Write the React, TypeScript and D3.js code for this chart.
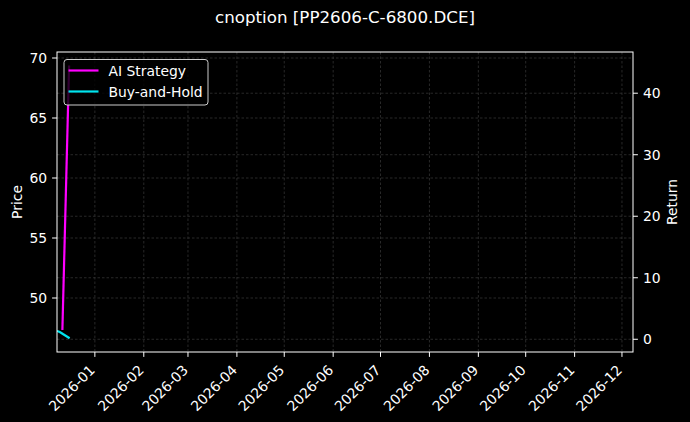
import React, { useEffect, useRef } from 'react';
import * as d3 from 'd3';

// series values (plotted on the Return axis)
const strategyDates = ['2025-12-11 10:00', '2025-12-15 16:00'];
const strategyValues = [1.5, 44.5];

const holdDates = ['2025-12-08 00:00', '2025-12-09 00:00', '2025-12-10 00:00', '2025-12-11 00:00', '2025-12-12 00:00', '2025-12-15 00:00', '2025-12-16 00:00'];
const holdValues = [1.35, 1.27, 1.14, 0.98, 0.81, 0.33, 0.16];

const xTickLabels = ['2026-01', '2026-02', '2026-03', '2026-04', '2026-05', '2026-06', '2026-07', '2026-08', '2026-09', '2026-10', '2026-11', '2026-12'];
const priceTicks = [50, 55, 60, 65, 70];
const returnTicks = [0, 10, 20, 30, 40];

const parse = d3.timeParse('%Y-%m-%d %H:%M');
const FONT = 'DejaVu Sans, sans-serif';

const App: React.FC = () => {
  const svgRef = useRef<SVGSVGElement>(null);
  const width = 690;
  const height = 422;

  useEffect(() => {
    document.body.style.margin = '0';
    document.body.style.background = '#000';
    if (!svgRef.current) return;
    const svg = d3.select(svgRef.current);
    svg.selectAll('*').remove();

    const margin = { top: 52, right: 57, bottom: 70, left: 57 };
    const x0 = margin.left, x1 = width - margin.right;
    const y0 = margin.top, y1 = height - margin.bottom;

    const x = d3.scaleTime()
      .domain([parse('2025-12-08 00:00')!, parse('2026-12-08 00:00')!])
      .range([x0, x1]);
    const yPrice = d3.scaleLinear().domain([45.5, 70.5]).range([y1, y0]);
    const yRet = d3.scaleLinear().domain([-2.07, 46.7]).range([y1, y0]);

    svg.append('rect').attr('width', width).attr('height', height).attr('fill', '#000');

    // title
    svg.append('text')
      .attr('x', width / 2).attr('y', 23)
      .attr('text-anchor', 'middle')
      .style('font-family', FONT).style('font-size', '16.7px')
      .attr('fill', '#fff')
      .text('cnoption [PP2606-C-6800.DCE]');

    const xTicks = xTickLabels.map(s => parse(s + '-01 00:00')!);

    // grid
    const grid = svg.append('g')
      .attr('stroke', '#3a3a3a').attr('stroke-width', 0.7).attr('stroke-dasharray', '2.5,2');
    xTicks.forEach(d => {
      grid.append('line').attr('x1', x(d)).attr('x2', x(d)).attr('y1', y0).attr('y2', y1);
    });
    priceTicks.forEach(v => {
      grid.append('line').attr('x1', x0).attr('x2', x1).attr('y1', yPrice(v)).attr('y2', yPrice(v));
    });
    returnTicks.forEach(v => {
      grid.append('line').attr('x1', x0).attr('x2', x1).attr('y1', yRet(v)).attr('y2', yRet(v));
    });

    // lines
    const clip = svg.append('defs').append('clipPath').attr('id', 'plot-clip');
    clip.append('rect').attr('x', x0).attr('y', y0).attr('width', x1 - x0).attr('height', y1 - y0);

    const line = d3.line<[Date, number]>()
      .x(d => x(d[0]))
      .y(d => yRet(d[1]));

    const strategy: [Date, number][] = strategyDates.map((s, i) => [parse(s)!, strategyValues[i]]);
    const hold: [Date, number][] = holdDates.map((s, i) => [parse(s)!, holdValues[i]]);

    svg.append('path')
      .attr('clip-path', 'url(#plot-clip)')
      .attr('d', line(strategy))
      .attr('fill', 'none').attr('stroke', '#ff00ff').attr('stroke-width', 2.2);
    svg.append('path')
      .attr('clip-path', 'url(#plot-clip)')
      .attr('d', line(hold))
      .attr('fill', 'none').attr('stroke', '#00e5ee').attr('stroke-width', 2.2);

    // frame
    svg.append('rect')
      .attr('x', x0).attr('y', y0).attr('width', x1 - x0).attr('height', y1 - y0)
      .attr('fill', 'none').attr('stroke', '#fff').attr('stroke-width', 1);

    const tickLen = 4.9;
    const fs = '13.9px';

    // x ticks
    const xg = svg.append('g');
    xTicks.forEach((d, i) => {
      const px = x(d);
      xg.append('line').attr('x1', px).attr('x2', px).attr('y1', y1).attr('y2', y1 + tickLen)
        .attr('stroke', '#fff').attr('stroke-width', 1);
      xg.append('text')
        .attr('transform', `translate(${px + 1},${y1 + 19}) rotate(-45)`)
        .attr('text-anchor', 'end')
        .style('font-family', FONT).style('font-size', fs)
        .attr('fill', '#fff')
        .text(xTickLabels[i]);
    });

    // left axis
    const lg = svg.append('g');
    priceTicks.forEach(v => {
      const py = yPrice(v);
      lg.append('line').attr('x1', x0 - tickLen).attr('x2', x0).attr('y1', py).attr('y2', py)
        .attr('stroke', '#fff');
      lg.append('text')
        .attr('x', x0 - tickLen - 5).attr('y', py).attr('dy', '0.36em')
        .attr('text-anchor', 'end')
        .style('font-family', FONT).style('font-size', fs)
        .attr('fill', '#fff')
        .text(v);
    });
    svg.append('text')
      .attr('transform', `translate(21.5,${(y0 + y1) / 2}) rotate(-90)`)
      .attr('text-anchor', 'middle')
      .style('font-family', FONT).style('font-size', fs)
      .attr('fill', '#fff')
      .text('Price');

    // right axis
    const rg = svg.append('g');
    returnTicks.forEach(v => {
      const py = yRet(v);
      rg.append('line').attr('x1', x1).attr('x2', x1 + tickLen).attr('y1', py).attr('y2', py)
        .attr('stroke', '#fff');
      rg.append('text')
        .attr('x', x1 + tickLen + 5).attr('y', py).attr('dy', '0.36em')
        .attr('text-anchor', 'start')
        .style('font-family', FONT).style('font-size', fs)
        .attr('fill', '#fff')
        .text(v);
    });
    svg.append('text')
      .attr('transform', `translate(677,${(y0 + y1) / 2}) rotate(-90)`)
      .attr('text-anchor', 'middle')
      .style('font-family', FONT).style('font-size', fs)
      .attr('fill', '#fff')
      .text('Return');

    // legend
    const legend = svg.append('g').attr('transform', `translate(64,59.5)`);
    legend.append('rect')
      .attr('width', 144).attr('height', 45.5).attr('rx', 3)
      .attr('fill', '#000').attr('fill-opacity', 0.8)
      .attr('stroke', '#cccccc').attr('stroke-width', 1);
    const items = [
      { label: 'AI Strategy', color: '#ff00ff' },
      { label: 'Buy-and-Hold', color: '#00e5ee' },
    ];
    items.forEach((it, i) => {
      const ly = 11 + i * 21;
      legend.append('line').attr('x1', 4.5).attr('x2', 34.5).attr('y1', ly).attr('y2', ly)
        .attr('stroke', it.color).attr('stroke-width', 2.2);
      legend.append('text')
        .attr('x', 44.5).attr('y', ly).attr('dy', '0.36em')
        .style('font-family', FONT).style('font-size', fs)
        .attr('fill', '#fff')
        .text(it.label);
    });
  }, []);

  return (
    <svg
      ref={svgRef}
      width={width}
      height={height}
      style={{ position: 'absolute', left: 0, top: 0, display: 'block' }}
    />
  );
};

export default App;
